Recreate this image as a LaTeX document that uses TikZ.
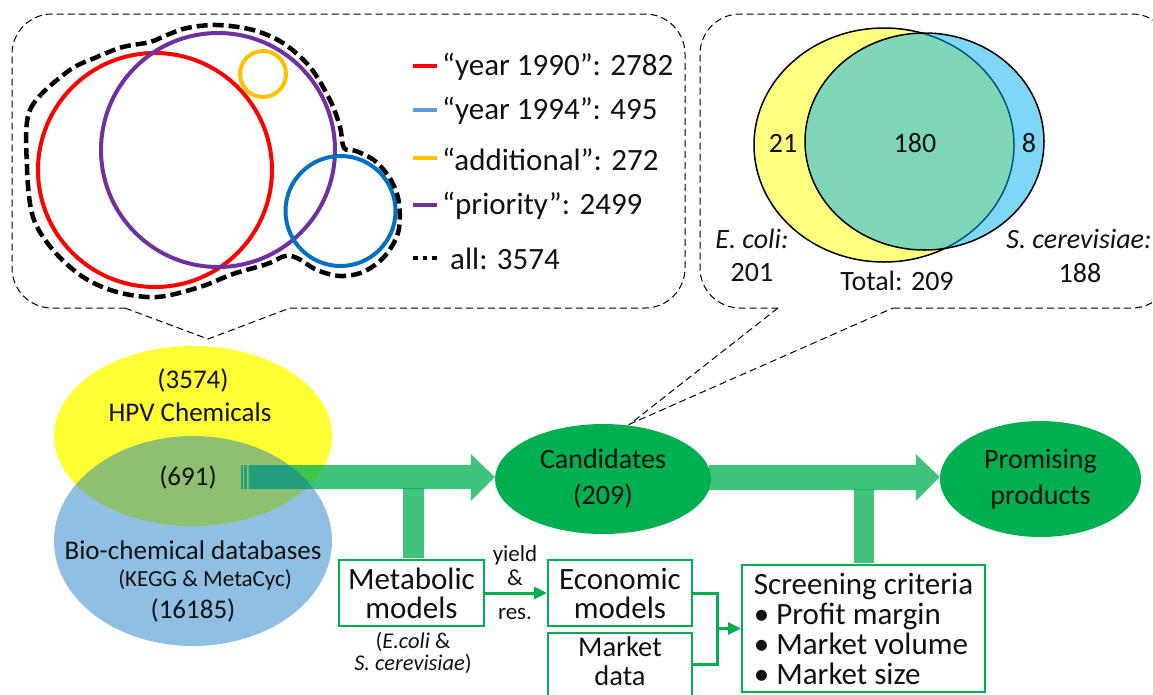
\documentclass[tikz,border=0pt]{standalone}
\usepackage{fontspec}
\setmainfont{Carlito}
\usetikzlibrary{arrows.meta,shapes.geometric,calc}
\definecolor{cgreen}{HTML}{00B050}
\definecolor{cred}{HTML}{FF0000}
\definecolor{cblue}{HTML}{0070C0}
\definecolor{clblue}{HTML}{5B9BD5}
\definecolor{corange}{HTML}{FFC000}
\definecolor{cpurple}{HTML}{7030A0}
\definecolor{hpvyellow}{HTML}{FFFF33}
\definecolor{vyellow}{HTML}{FFFF80}
\definecolor{vblue}{HTML}{00B0F0}
\definecolor{txt}{HTML}{111111}
\tikzset{
  callout/.style={draw=black, line width=1pt, dash pattern=on 7pt off 4pt},
  vcirc/.style={line width=4pt},
  allline/.style={draw=black, line width=4.5pt, dash pattern=on 11pt off 5pt},
  legtext/.style={anchor=west, inner sep=0pt, text=txt, font=\fontsize{31}{34}\selectfont},
  venntext/.style={inner sep=0pt, text=txt, font=\fontsize{28}{34}\selectfont, align=center},
  elltext/.style={inner sep=0pt, text=txt, font=\fontsize{27}{32}\selectfont, align=center},
  greenell/.style={ellipse, fill=cgreen, inner sep=0pt, text=txt, font=\fontsize{28}{36}\selectfont, align=center},
  greenbox/.style={draw=cgreen, line width=2pt, fill=white, inner sep=0pt, text=txt, font=\fontsize{31}{29}\selectfont, align=center},
  boxline/.style={draw=cgreen, line width=2pt},
  smalltext/.style={inner sep=0pt, text=txt, font=\fontsize{22.5}{22}\selectfont, align=center},
  bigarrow/.style={fill=cgreen, fill opacity=0.75},
  gline/.style={draw=cgreen, line width=3pt},
  garrow/.style={gline, -{Triangle[length=13pt,width=12pt]}},
}
\begin{document}
\begin{tikzpicture}[x=1pt,y=-1pt]
\useasboundingbox (0,0) rectangle (1153,694);
\clip (0,0) rectangle (1153,694);

% ---------- left callout ----------
\draw[callout, rounded corners=40pt] (290,308) -- (685,308) -- (685,14) -- (12,14) -- (12,308) -- (125,308);
\coordinate (tip1) at (208,339);
\draw[callout] (125,308) -- (tip1) -- (290,308);

% circles
\draw[vcirc, cred] (155,170) circle [radius=117pt];
\draw[vcirc, cpurple] (218,150) circle [radius=117pt];
\draw[vcirc, corange] (263,74) circle [radius=23pt];
\draw[vcirc, cblue] (340.5,211) circle [radius=55pt];
\draw[allline] plot[smooth cycle, tension=0.55] coordinates {
 (27,167) (30,110) (67,72) (97,57) (123,47) (150,42) (167,35) (187,28) (217,25) (253,30)
 (283,43) (310,67) (330,100) (340,127) (344,148) (356,151) (375,161) (391,180) (399,203)
 (398,233) (384,257) (363,272) (340,276) (317,270) (297,258) (285,256) (267,264) (233,274)
 (200,287) (157,297) (117,292) (83,277) (53,250) (33,217)};

% legend
\draw[cred, line width=4pt] (413,66) -- (437,66);
\draw[clblue, line width=4pt] (413,110) -- (437,110);
\draw[corange, line width=4pt] (413,158) -- (437,158);
\draw[cpurple, line width=4pt] (413,205) -- (437,205);
\draw[black, line width=4.5pt, dash pattern=on 4.5pt off 5pt] (413,258) -- (437,258);
\node[legtext] (l1) at (442,67) {“year 1990”: 2782};
\node[legtext] (l2) at (442,111) {“year 1994”: 495};
\node[legtext] (l3) at (442,159) {“additional”: 272};
\node[legtext] (l4) at (442,206) {“priority”: 2499};
\node[legtext] (l5) at (450,259) {all: 3574};

% ---------- right callout ----------
\draw[callout, rounded corners=40pt] (893,308) -- (1172,308) -- (1172,14) -- (700,14) -- (700,308) -- (778,308);
\coordinate (tip2) at (630,424);
\draw[callout] (778,308) -- (tip2) -- (893,308);

\draw[black, line width=1.5pt, fill=vyellow] (884,145) ellipse [x radius=130pt, y radius=117pt];
\draw[black, line width=1.5pt, fill=vblue, fill opacity=0.5] (924.5,141.5) ellipse [x radius=119.5pt, y radius=108.5pt];
\node[venntext] (v21) at (783,143) {21};
\node[venntext] (v180) at (915,143) {180};
\node[venntext] (v8) at (1029,143) {8};
\node[venntext] (ecoli) at (752,239) {\itshape E. coli:};
\node[venntext] (n201) at (752,273) {201};
\node[venntext] (total) at (897,281) {Total: 209};
\node[venntext] (scer) at (1079,239) {\itshape S. cerevisiae:};
\node[venntext] (n188) at (1080,273) {188};

% ---------- bottom flow ----------
\fill[hpvyellow] (193,436) ellipse [x radius=139pt, y radius=90pt];

\node[greenell, minimum width=216pt, minimum height=110pt] (cand) at (603,479) {Candidates\\(209)};
\node[greenell, minimum width=201pt, minimum height=116pt] (prom) at (1040.5,479) {Promising\\products};

\node[greenbox, minimum width=145pt, minimum height=66pt] (met) at (411.5,593) {Metabolic\\models};
\node[greenbox, minimum width=144pt, minimum height=66pt] (econ) at (620,593) {Economic\\models};
\node[inner sep=0pt, minimum width=144pt, text=txt, font=\fontsize{28.5}{28.5}\selectfont, align=center] (market) at (620,661) {Market\\data};
\draw[boxline] (market.west |- 0,633) rectangle (market.east |- 0,702);
\node[greenbox, minimum width=243pt, minimum height=127pt, align=left, font=\fontsize{31}{30}\selectfont] (screen) at (863.5,628.5)
  {Screening criteria\\• Profit margin\\• Market volume\\• Market size};

% arrow 1 (striped tail)
\coordinate (t1) at (248.5,477);
\fill[bigarrow] (240.5,465) rectangle (242.5,489);
\fill[bigarrow] (244.3,465) rectangle (246.7,489);
\fill[bigarrow] ($(t1)+(0,-12)$) -- ($(cand.west)+(-24,-14)$) -- ($(cand.west)+(-24,-25)$) -- ($(cand.west)+(0,-2)$)
  -- ($(cand.west)+(-24,22)$) -- ($(cand.west)+(-24,10)$) -- ($(t1)+(0,12)$) -- cycle;
\fill[bigarrow] ($(met.north)+(-8.5,-71)$) rectangle ($(met.north)+(12.5,-1)$);

% arrow 2
\fill[bigarrow] ($(cand.east)+(-2,-14)$) -- ($(prom.west)+(-24,-14)$) -- ($(prom.west)+(-24,-25)$) -- ($(prom.west)+(0,-2)$)
  -- ($(prom.west)+(-24,22)$) -- ($(prom.west)+(-24,11)$) -- ($(cand.east)+(-2,11)$) -- cycle;
\fill[bigarrow] ($(screen.north)+(-9.5,-75)$) rectangle ($(screen.north)+(10.5,-1)$);

% blue ellipse on top
\fill[cblue, fill opacity=0.44] (193,541) ellipse [x radius=139pt, y radius=105pt];

\node[elltext] (n3574) at (193,380) {(3574)};
\node[elltext] (hpv) at (190,412) {HPV Chemicals};
\node[elltext] (n691) at (188,477) {(691)};
\node[elltext] (bio) at (193,550) {Bio-chemical databases};
\node[elltext, font=\fontsize{23}{26}\selectfont] (kegg) at (205,580) {(KEGG \& MetaCyc)};
\node[elltext] (n16185) at (193,610) {(16185)};

% small labels
\node[smalltext] (orgs) at (413,653) {(\textit{E.coli} \&\\\textit{S. cerevisiae})};
\node[smalltext, font=\fontsize{23}{24}\selectfont] (yield) at (515,566) {yield\\\&};
\node[smalltext, font=\fontsize{23}{24}\selectfont] (res) at (515,614) {res.};

% thin connectors
\draw[garrow] (met.east) -- (econ.west);
\coordinate (j) at (717,628.5);
\draw[gline] (econ.east) -| (j);
\draw[gline] (market.east |- 0,664) -| (j);
\draw[garrow] (j) -- (screen.west);

\end{tikzpicture}
\end{document}
